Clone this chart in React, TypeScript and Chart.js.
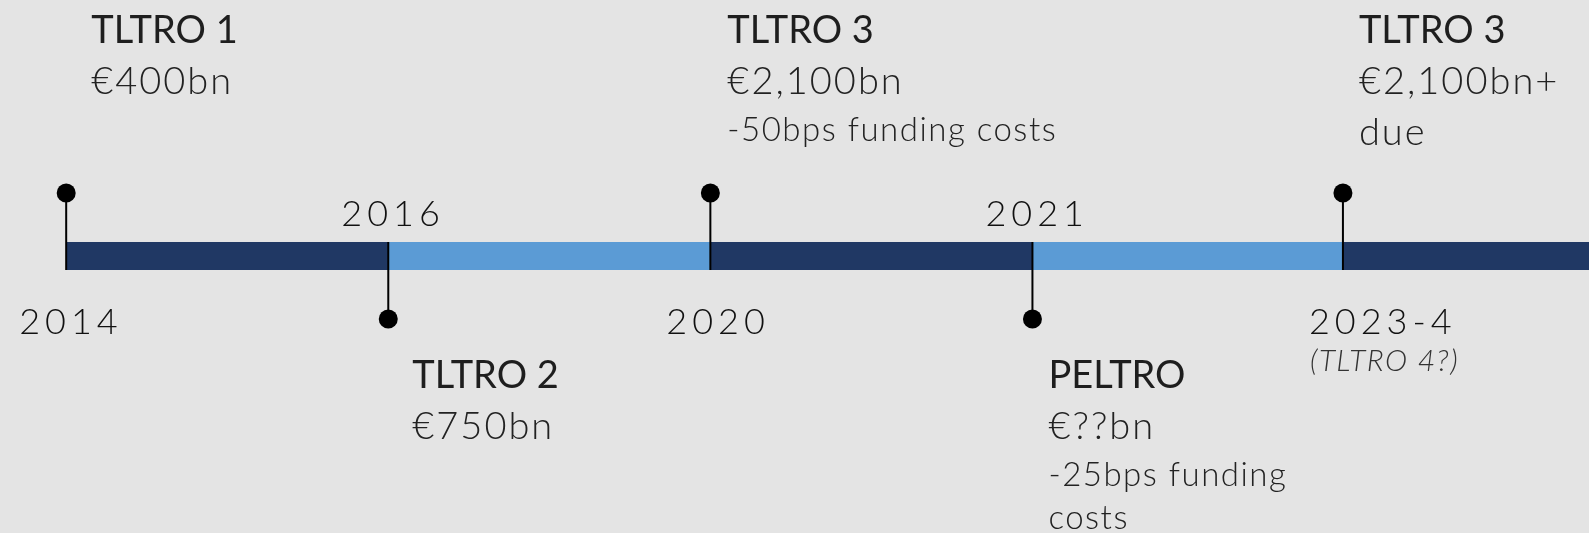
import React, { useEffect, useRef } from "react";
import { Chart, registerables } from "chart.js";

Chart.register(...registerables);

// ---- data ----
const eventYears = ["2014", "2016", "2020", "2021", "2023-4"];
const eventPos = [0, 1, 2, 3, 3.964];
const markerSide = [1, -1, 1, -1, 1]; // 1 = marker above bar, -1 = below
const segmentStart = [0, 1, 2, 3, 3.964];
const segmentEnd = [1, 2, 3, 3.964, 6];
const segmentTone = ["dark", "light", "dark", "light", "dark"];
const titles = ["TLTRO 1", "TLTRO 2", "TLTRO 3", "PELTRO", "TLTRO 3"];
const amounts = [["€400bn"], ["€750bn"], ["€2,100bn"], ["€??bn"], ["€2,100bn+", "due"]];
const notes = [[], [], ["-50bps funding costs"], ["-25bps funding", "costs"], []];
const yearNotes = ["", "", "", "", "(TLTRO 4?)"];

// ---- styles / layout ----
const W = 1589;
const H = 533;
const BG = "#E4E4E4";
const DARK = "#203864";
const LIGHT = "#5B9BD5";
const BAR_PX = 28;
const UNIT_PX = 63;
const BAR_CENTER_PX = 256;
const X_MIN = -0.2055;
const X_MAX = 4.728;
const FONT = "Lato, 'Open Sans', sans-serif";
const titleDx = [25, 24, 17, 16, 16];
const yearDx = [-47, -47, -44, -47, -34];
const yearNoteDx = -33;

export default function App() {
  const ref = useRef<HTMLCanvasElement | null>(null);

  useEffect(() => {
    document.body.style.margin = "0";
    document.body.style.background = BG;
    const canvas = ref.current;
    if (!canvas) return;
    const halfBar = BAR_PX / 2 / UNIT_PX;

    const stemSets = eventPos.map((p, i) => ({
      type: "line" as const,
      data: [
        { x: p, y: markerSide[i] },
        { x: p, y: -markerSide[i] * halfBar },
      ],
      borderColor: "#000",
      borderWidth: 2,
      pointRadius: (c: any) => (c.dataIndex === 0 ? 9.5 : 0),
      pointBackgroundColor: "#000",
      pointBorderWidth: 0,
      clip: false,
      order: 0,
    }));
    const segSets = segmentStart.map((s, i) => ({
      type: "line" as const,
      data: [
        { x: s, y: 0 },
        { x: segmentEnd[i], y: 0 },
      ],
      borderColor: segmentTone[i] === "dark" ? DARK : LIGHT,
      borderWidth: BAR_PX,
      borderCapStyle: "butt" as const,
      pointRadius: 0,
      clip: false,
      order: 1,
    }));

    const bgPlugin = {
      id: "bg",
      beforeDraw(chart: any) {
        const c = chart.ctx;
        c.save();
        c.fillStyle = BG;
        c.fillRect(0, 0, chart.width, chart.height);
        c.restore();
      },
    };

    const textPlugin = {
      id: "texts",
      afterDatasetsDraw(chart: any) {
        const c = chart.ctx as CanvasRenderingContext2D;
        const xs = chart.scales.x;
        c.save();
        c.textAlign = "left";
        c.textBaseline = "alphabetic";
        const draw = (t: string, x: number, y: number, font: string, color: string, ls: string) => {
          c.font = font;
          c.fillStyle = color;
          (c as any).letterSpacing = ls;
          c.fillText(t, x, y);
        };
        eventPos.forEach((p, i) => {
          const px = xs.getPixelForValue(p);
          const up = markerSide[i] === 1;
          const tx = px + titleDx[i];
          const titleY = up ? 43 : 388;
          draw(titles[i], tx, titleY, `400 38px ${FONT}`, "#1e1e1e", "0px");
          let y = titleY;
          amounts[i].forEach((a) => {
            y += 51;
            draw(a, tx, y, `300 38px ${FONT}`, "#222", "2px");
          });
          notes[i].forEach((n, k) => {
            y += k === 0 ? 47 : 43;
            draw(n, tx, y, `300 33px ${FONT}`, "#222", "1.5px");
          });
          const yy = up ? 334 : 226;
          draw(eventYears[i], px + yearDx[i], yy, `300 36px ${FONT}`, "#111", "5px");
          if (yearNotes[i]) {
            draw(yearNotes[i], px + yearNoteDx, 371, `italic 300 30px ${FONT}`, "#333", "1.5px");
          }
        });
        c.restore();
      },
    };

    const chart = new Chart(canvas, {
      type: "line",
      data: { datasets: [...stemSets, ...segSets] as any },
      options: {
        animation: false,
        responsive: false,
        devicePixelRatio: 1,
        layout: { padding: 0, autoPadding: false },
        plugins: { legend: { display: false }, tooltip: { enabled: false } },
        events: [],
        scales: {
          x: { type: "linear", min: X_MIN, max: X_MAX, display: false },
          y: {
            type: "linear",
            min: -(H - BAR_CENTER_PX) / UNIT_PX,
            max: BAR_CENTER_PX / UNIT_PX,
            display: false,
          },
        },
      },
      plugins: [bgPlugin, textPlugin],
    });
    return () => chart.destroy();
  }, []);

  return (
    <div style={{ position: "absolute", left: 0, top: 0, width: W, height: H, background: BG }}>
      <canvas ref={ref} width={W} height={H} style={{ width: W, height: H, display: "block" }} />
    </div>
  );
}
